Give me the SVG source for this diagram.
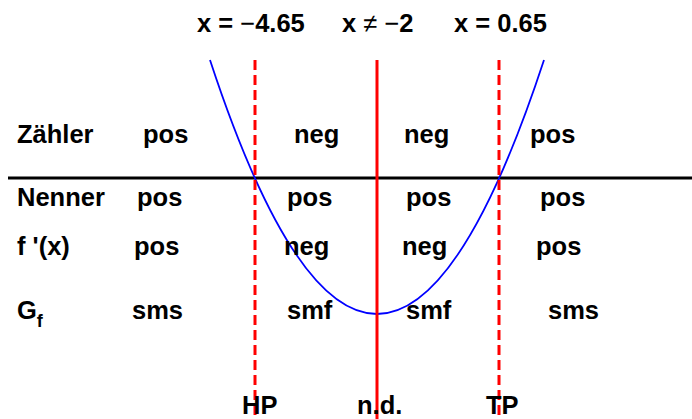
<svg xmlns="http://www.w3.org/2000/svg" width="692" height="419" viewBox="0 0 692 419">
<style>
text{font-family:"Liberation Sans",Arial,sans-serif;font-weight:bold;font-size:25.5px;fill:#000}
.n{font-weight:normal}
.sub{font-size:18px}
.dash{stroke:#f00;stroke-width:3;stroke-dasharray:10 5;fill:none}
.solid{stroke:#f00;stroke-width:3;fill:none}
.axis{stroke:#000;stroke-width:3}
.curve{stroke:#00f;stroke-width:1.8;fill:none}
</style>
<rect width="692" height="419" fill="#fff"/>
<g id="header">
<text x="197" y="32">x = <tspan class="n">−</tspan>4.65</text>
<text x="342" y="32">x <tspan class="n">≠</tspan> <tspan class="n">−</tspan>2</text>
<text x="454" y="32">x = 0.65</text>
</g>
<g id="connectors">
<line class="axis" x1="8" y1="178" x2="692" y2="178"/>
<path class="curve" d="M210,60 Q377,568 544,60"/>
<line class="dash" x1="255" y1="60" x2="255" y2="419"/>
<line class="solid" x1="377" y1="60" x2="377" y2="419"/>
<line class="dash" x1="499" y1="60" x2="499" y2="419"/>
</g>
<g id="row-zaehler">
<text x="17" y="143">Zähler</text>
<text x="143" y="143">pos</text>
<text x="294" y="143">neg</text>
<text x="404" y="143">neg</text>
<text x="530" y="143">pos</text>
</g>
<g id="row-nenner">
<text x="17" y="206">Nenner</text>
<text x="137" y="206">pos</text>
<text x="287" y="206">pos</text>
<text x="406" y="206">pos</text>
<text x="540" y="206">pos</text>
</g>
<g id="row-fstrich">
<text x="17" y="255">f '(x)</text>
<text x="134" y="255">pos</text>
<text x="284" y="255">neg</text>
<text x="402" y="255">neg</text>
<text x="536" y="255">pos</text>
</g>
<g id="row-gf">
<text x="17" y="319">G<tspan class="sub" dy="8">f</tspan></text>
<text x="132" y="319">sms</text>
<text x="287" y="319">smf</text>
<text x="406" y="319">smf</text>
<text x="548" y="319">sms</text>
</g>
<g id="labels">
<text x="242" y="414">HP</text>
<text x="357" y="414">n.d.</text>
<text x="486" y="414">TP</text>
</g>
</svg>
